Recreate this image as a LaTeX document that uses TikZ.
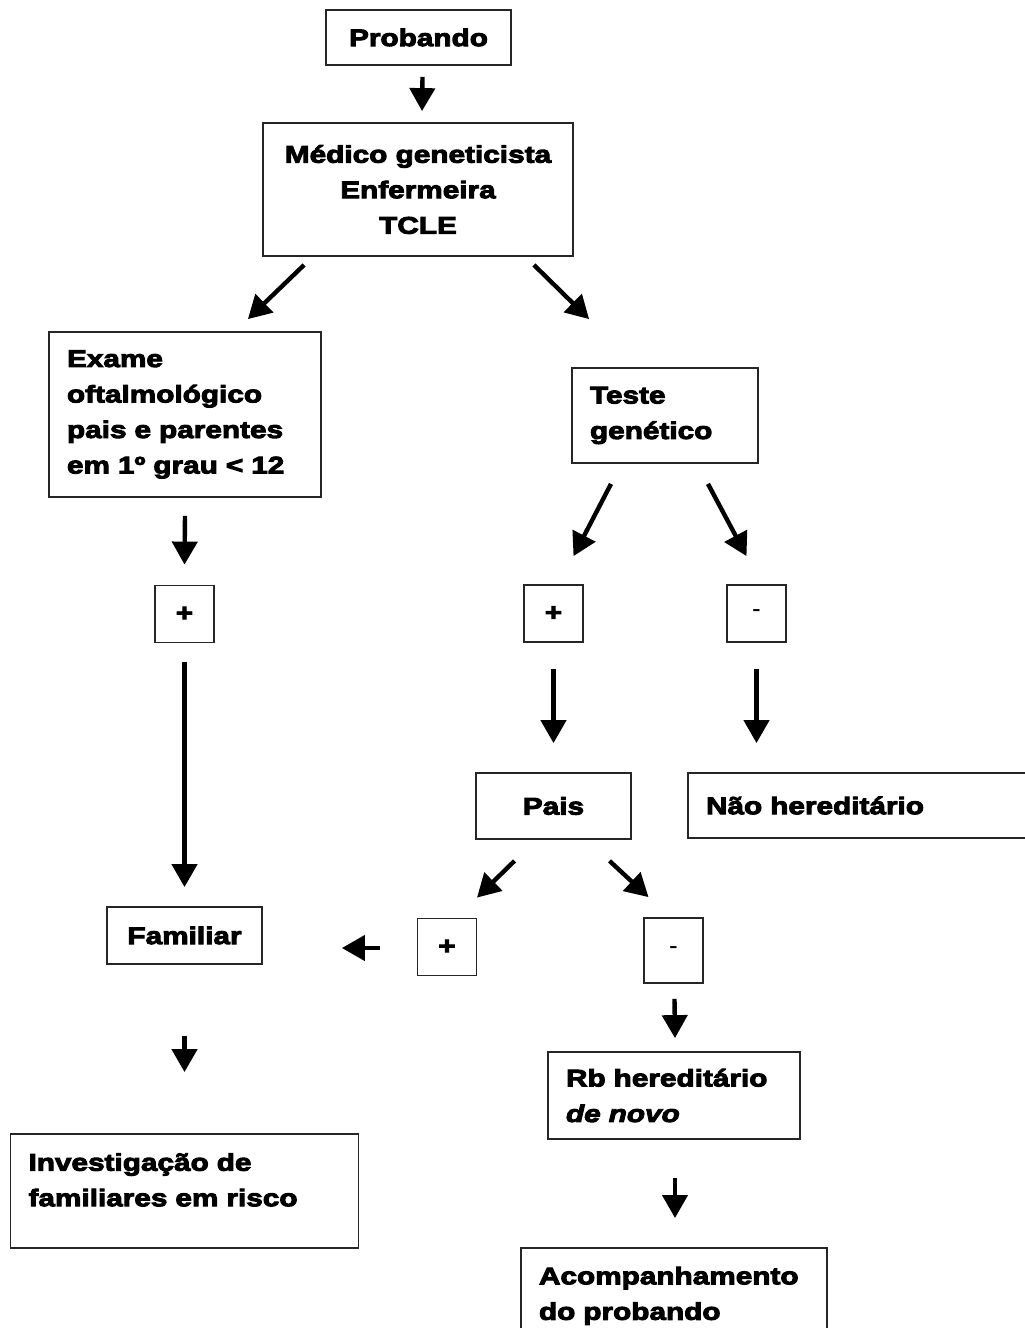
\documentclass[tikz,border=0pt]{standalone}
\usepackage{fontspec}
\setmainfont{Liberation Sans}
\newfontfamily\heavyfont{Liberation Sans}[FakeStretch=1.24,
  BoldFeatures={FakeBold=4}, BoldItalicFeatures={FakeBold=4}]
\usetikzlibrary{arrows.meta, positioning, calc}

\begin{document}
\begin{tikzpicture}[
    x=0.5pt, y=-0.5pt,
    box/.style={rectangle, draw=black!85, line width=0.9pt, fill=white, align=center, inner sep=0pt, font=\heavyfont\bfseries\fontsize{12}{17.75}\selectfont},
    leftbox/.style={box, align=left, inner xsep=9pt, inner ysep=0pt},
    signbox/.style={rectangle, draw=black!85, line width=0.9pt, fill=white, minimum width=29.5pt, minimum height=28.5pt, inner sep=0pt, font=\heavyfont\bfseries\fontsize{12}{12}\selectfont},
    minus/.style={signbox, font=\normalfont\fontsize{13}{13}\selectfont},
    arrow/.style={-{Triangle[width=12.5pt, length=11.5pt]}, line width=2.2pt, black}
]
\useasboundingbox (0,0) rectangle (1024,1328);
\fill[white] (0,0) rectangle (1024,1328);

% Top: probando and first consultation
\node[box, minimum width=92.5pt, minimum height=27.5pt] (probando) at (418.5,37.5) {Probando};
\node[box, minimum width=155pt, minimum height=66.5pt] (medico) at (418,189.5) {Médico geneticista\\Enfermeira\\TCLE};

% Left branch
\node[leftbox, text width=118pt, minimum height=82.5pt] (exame) at (185,414.5) {Exame\\oftalmológico\\pais e parentes\\em 1º grau < 12};
\node[signbox] (plusA) at (184.5,614) {+};
\node[box, minimum width=77.5pt, minimum height=28.5pt] (familiar) at (184.5,935.5) {Familiar};
\node[leftbox, text width=156pt, minimum height=57pt, text depth=29pt] (invest) at (184.5,1191) {Investigação de\\familiares em risco};

% Right branch
\node[leftbox, text width=75pt, minimum height=47.5pt] (teste) at (665,415.5) {Teste\\genético};
\node[signbox] (plusB) at (553.5,613.5) {+};
\node[minus] (minusB) at (756.5,613.5) {-};
\node[box, minimum width=77.5pt, minimum height=33pt] (pais) at (553.5,806) {Pais};
\node[leftbox, text width=153pt, minimum height=32.5pt] (naoher) at (859,805.5) {Não hereditário};
\node[signbox] (plusC) at (447,947) {+};
\node[minus, minimum height=32.5pt] (minusC) at (673.5,950.5) {-};
\node[leftbox, text width=108pt, minimum height=43.5pt] (rb) at (674,1095.5) {Rb hereditário\\\textit{de novo}};
\node[leftbox, text width=135pt, inner ysep=9.5pt, anchor=north] (acomp) at (674,1247) {Acompanhamento\\do probando};

% Arrows - main flow
\draw[arrow] ($(probando.south)+(4,11)$) -- ($(medico.north)+(4,-11)$);
\draw[arrow] ($(medico.south west)+(42,8)$) -- ($(exame.north east)+(-74,-12)$);
\draw[arrow] ($(medico.south east)+(-40,8)$) -- ($(teste.north west)+(18,-48)$);

% Arrows - left branch
\draw[arrow] ($(exame.south)+(0,18)$) -- ($(plusA.north)+(0,-20)$);
\draw[arrow] ($(plusA.south)+(0,19)$) -- ($(familiar.north)+(0,-19)$);
\draw[arrow] ($(familiar.south)+(0,71)$) -- ($(invest.north)+(0,-61)$);

% Arrows - right branch
\draw[arrow] ($(teste.south)+(-54,20)$) -- ($(plusB.north)+(20,-28)$);
\draw[arrow] ($(teste.south)+(43,20)$) -- ($(minusB.north)+(-10,-28)$);
\draw[arrow] ($(plusB.south)+(0,26)$) -- ($(pais.north)+(0,-29)$);
\draw[arrow] ($(minusB.south)+(0,26)$) -- ($(minusB.south |- naoher.north)+(0,-29)$);
\draw[arrow] ($(pais.south)+(-39,21)$) -- ($(plusC.north)+(30,-20)$);
\draw[arrow] ($(pais.south)+(56,21)$) -- ($(minusC.north)+(-25,-20)$);
\draw[arrow] ($(plusC.west)+(-37,1)$) -- ($(familiar.east |- plusC.west)+(79,1)$);
\draw[arrow] ($(minusC.south)+(1,15)$) -- ($(rb.north)+(1,-13)$);
\draw[arrow] ($(rb.south)+(1,38)$) -- ($(acomp.north)+(1,-29)$);

\end{tikzpicture}
\end{document}
